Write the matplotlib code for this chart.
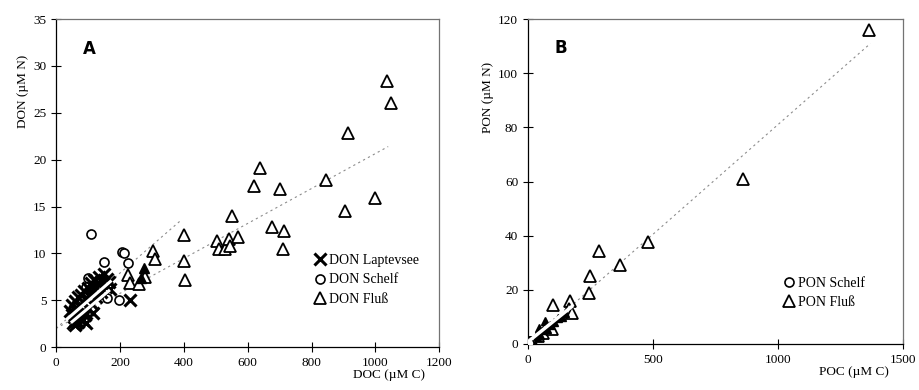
import numpy as np
import matplotlib.pyplot as plt

plt.rcParams['font.family'] = ['Liberation Serif', 'DejaVu Serif']

# Panel A: dissolved
lap_doc = [45, 50, 52, 55, 58, 60, 62, 65, 68, 70, 72, 75, 78, 80, 83, 85, 88, 90, 95, 100,
           100, 105, 110, 112, 118, 120, 125, 130, 135, 140, 145, 150, 155, 160, 165, 170,
           115, 95, 60, 230]
lap_don = [3.8, 4.5, 2.6, 3.2, 4.9, 2.8, 4.0, 3.5, 5.3, 2.7, 4.4, 3.0, 5.6, 3.7, 2.9, 4.8,
           6.0, 3.4, 5.2, 6.3, 4.1, 5.7, 6.8, 4.6, 6.1, 7.2, 5.3, 6.8, 7.5, 5.9, 7.1, 7.8,
           6.4, 7.3, 6.9, 6.2, 3.6, 2.6, 2.4, 5.0]
sch_doc = [110, 150, 205, 212, 225, 100, 115, 125, 80, 140, 160, 197, 95, 130]
sch_don = [12.1, 9.1, 10.1, 10.0, 9.0, 7.4, 6.3, 6.2, 5.1, 5.7, 5.2, 5.0, 6.4, 7.2]
flu_doc = [225, 230, 260, 280, 305, 310, 400, 400, 405, 505, 510, 530, 540, 545, 550,
           570, 620, 640, 675, 700, 710, 715, 845, 905, 915, 1000, 1035, 1050]
flu_don = [7.7, 6.8, 6.7, 7.5, 10.3, 9.4, 12.0, 9.2, 7.2, 11.3, 10.5, 10.5, 11.5, 10.8,
           14.0, 11.7, 17.2, 19.1, 12.8, 16.9, 10.5, 12.4, 17.8, 14.5, 22.9, 15.9, 28.4, 26.0]
fill_doc = [275, 265]
fill_don = [8.4, 7.4]
# regression lines (x0, x1, y0, y1)
a_grey = [(0, 1040, 2.0, 21.4), (0, 390, 2.0, 13.5)]
a_white = [(35, 170, 3.0, 7.0), (50, 165, 2.7, 6.0)]

# Panel B: particulate
psch_poc = [2, 5, 8, 3, 10, 6]
psch_pon = [0.3, 0.6, 1.0, 0.2, 1.2, 0.5]
pflu_poc = [100, 170, 250, 245, 285, 370, 480, 860, 1365, 40, 60, 95, 165, 175]
pflu_pon = [14.5, 15.8, 25.0, 19.0, 34.5, 29.0, 37.5, 61.0, 116.0, 3.0, 4.0, 5.5, 13.0, 11.5]
pfill_poc = [20, 35, 50, 60, 75, 90, 105, 120, 135, 150, 45, 70]
pfill_pon = [1.0, 2.5, 3.5, 5.0, 5.5, 7.0, 8.0, 9.5, 10.0, 11.5, 6.0, 8.5]
b_grey = [(0, 1370, 0.0, 111.0)]
b_white = [(0, 175, 0.8, 13.8)]

fig = plt.figure(figsize=(9.19, 3.9), dpi=100)
axA = fig.add_axes([0.061, 0.110, 0.417, 0.841])
axB = fig.add_axes([0.5745, 0.118, 0.408, 0.833])

tri = dict(marker='^', ms=8, mfc='white', mec='black', mew=1.3, ls='none')
circ = dict(marker='o', ms=6.5, mfc='white', mec='black', mew=1.2, ls='none')

# panel A
for x0, x1, y0, y1 in a_grey:
    axA.plot([x0, x1], [y0, y1], ls=(0, (2, 3)), color='0.55', lw=0.8, zorder=1)
axA.plot(flu_doc, flu_don, label='DON Fluß', zorder=3, **tri)
axA.plot(fill_doc, fill_don, marker='^', ms=7, color='black', ls='none', zorder=3)
axA.plot(sch_doc, sch_don, label='DON Schelf', zorder=3, **circ)
axA.plot(lap_doc, lap_don, marker='x', ms=8, mew=2.2, color='black', ls='none',
         label='DON Laptevsee', zorder=4)
for x0, x1, y0, y1 in a_white:
    axA.plot([x0, x1], [y0, y1], color='white', lw=2.2, zorder=5)
axA.set_xlim(0, 1200)
axA.set_ylim(0, 35)
axA.set_xticks(np.arange(0, 1201, 200))
axA.set_yticks(np.arange(0, 36, 5))
axA.text(0.07, 0.91, 'A', transform=axA.transAxes, fontsize=12, fontweight='bold',
         family='DejaVu Sans', va='center')
h, l = axA.get_legend_handles_labels()
order = [l.index('DON Laptevsee'), l.index('DON Schelf'), l.index('DON Fluß')]
axA.legend([h[i] for i in order], [l[i] for i in order], loc='center left',
           bbox_to_anchor=(0.655, 0.205), frameon=False, fontsize=10,
           handlelength=0.9, handletextpad=0.2, labelspacing=0.45, borderpad=0)
axA.set_ylabel('DON (µM N)', fontsize=9.5, y=0.78, labelpad=3)
axA.set_xlabel('DOC (µM C)', fontsize=9.5, x=0.87, labelpad=0)

# panel B
for x0, x1, y0, y1 in b_grey:
    axB.plot([x0, x1], [y0, y1], ls=(0, (2, 3)), color='0.55', lw=0.8, zorder=1)
axB.plot(pflu_poc, pflu_pon, label='PON Fluß', zorder=3, **tri)
axB.plot(pfill_poc, pfill_pon, marker='^', ms=6, color='black', ls='none', zorder=3)
axB.plot(psch_poc, psch_pon, label='PON Schelf', zorder=4, **circ)
for x0, x1, y0, y1 in b_white:
    axB.plot([x0, x1], [y0, y1], color='white', lw=2.5, zorder=5)
axB.set_xlim(0, 1500)
axB.set_ylim(0, 120)
axB.set_xticks(np.arange(0, 1501, 500))
axB.set_yticks(np.arange(0, 121, 20))
axB.text(0.07, 0.91, 'B', transform=axB.transAxes, fontsize=12, fontweight='bold',
         family='DejaVu Sans', va='center')
h, l = axB.get_legend_handles_labels()
axB.legend([h[1], h[0]], [l[1], l[0]], loc='center left',
           bbox_to_anchor=(0.66, 0.157), frameon=False, fontsize=10,
           handlelength=0.9, handletextpad=0.2, labelspacing=0.45, borderpad=0)
axB.set_ylabel('PON (µM N)', fontsize=9.5, y=0.76, labelpad=3)
axB.set_xlabel('POC (µM C)', fontsize=9.5, x=0.87, labelpad=0)

for ax in (axA, axB):
    ax.tick_params(direction='inout', length=7, width=0.8, labelsize=9.5)
    for s in ax.spines.values():
        s.set_linewidth(0.9)
    for s in ('top', 'right'):
        ax.spines[s].set_color('0.45')

fig.savefig('out.png', dpi=100)
